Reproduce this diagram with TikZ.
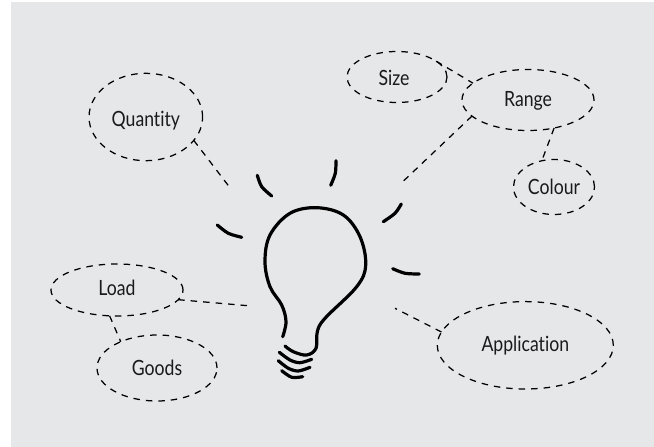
\documentclass[tikz,border=0pt]{standalone}
\usetikzlibrary{shapes.geometric}
\usepackage{fontspec}
\setmainfont[FakeStretch=0.84,Ligatures=NoCommon]{Lato}
\definecolor{bg}{HTML}{E6E7E9}
\definecolor{ink}{HTML}{1A1A1A}
\tikzset{
  idea/.style={draw=black,ellipse,dash pattern=on 6.5pt off 6pt,line width=1.25pt,inner sep=0pt,outer sep=0pt,text=ink,text depth=0pt,font=\fontsize{21}{24}\selectfont},
  link/.style={draw=black,dash pattern=on 6.5pt off 6pt,line width=1.25pt},
  stroke/.style={draw=black,line width=3.2pt,line cap=round,line join=round}
}
\begin{document}
\begin{tikzpicture}[x=1pt,y=-1pt]
\useasboundingbox (0,0) rectangle (654,447);
\fill[white] (0,0) rectangle (654,447);
\fill[bg] (11,2) rectangle (654,447);
% ideas
\node[idea,text height=16pt,minimum width=100pt,minimum height=51pt] (size) at (397,77) {Size\kern6pt};
\node[idea,text height=12pt,minimum width=132pt,minimum height=61pt] (range) at (528,100) {Range};
\node[idea,text height=14pt,minimum width=81pt,minimum height=55pt] (colour) at (554,187) {Colour};
\node[idea,text height=18pt,minimum width=113.6pt,minimum height=87.4pt] (quantity) at (145.8,117) {Quantity};
\node[idea,text height=11.4pt,minimum width=132pt,minimum height=52pt] (load) at (117,290) {Load};
\node[idea,text height=14pt,minimum width=120pt,minimum height=66pt] (goods) at (157,368) {Goods};
\node[idea,text height=12.8pt,minimum width=176pt,minimum height=87.4pt] (application) at (525.3,345.3) {Application};
% free ends near the bulb
\coordinate (qend) at (231.7,190);
\coordinate (rend) at (401.7,182.7);
\coordinate (lend) at (248,305.7);
\coordinate (aend) at (395,308.3);
% connectors
\draw[link] (size.22) -- (range.163);
\draw[link] (range.196) -- (rend);
\draw[link] (range.313) -- (colour.115);
\draw[link] (quantity.334) -- (qend);
\draw[link] (load.351) -- (lend);
\draw[link] (load.254) -- (goods.144);
\draw[link] (application.171.6) -- (aend);
% bulb
\draw[stroke] plot[smooth,tension=0.6] coordinates {(282.7,336.7) (286,321.7) (281.7,305) (270,286.7) (265,261.7) (270,235) (290,213.3) (316.7,207.7) (343.3,215) (360,236.7) (365.7,265) (356.7,286.7) (325,318.3) (317.3,331.7) (316,348.3) (306.7,355) (293.3,351.7) (285,346)};
\draw[stroke] plot[smooth] coordinates {(279.3,352.3) (290,360) (300,362.7) (311.7,359.3)};
\draw[stroke] plot[smooth] coordinates {(278.3,360.7) (288.3,368.3) (298.3,371) (310,367.3)};
\draw[stroke] plot[smooth] coordinates {(281.7,370.7) (291.7,377.3) (302.7,376.7)};
% rays
\draw[stroke] plot[smooth] coordinates {(217.3,225) (228.3,233.3) (241.7,237.3)};
\draw[stroke] plot[smooth] coordinates {(257.3,175.3) (261.7,186.7) (271.7,196)};
\draw[stroke] plot[smooth] coordinates {(336,160.7) (335.3,173.3) (330.7,185.3)};
\draw[stroke] plot[smooth] coordinates {(401.3,204) (395,213.3) (383.3,221.7)};
\draw[stroke] plot[smooth] coordinates {(392.7,268.7) (405,273.3) (419.3,274)};
\end{tikzpicture}
\end{document}
